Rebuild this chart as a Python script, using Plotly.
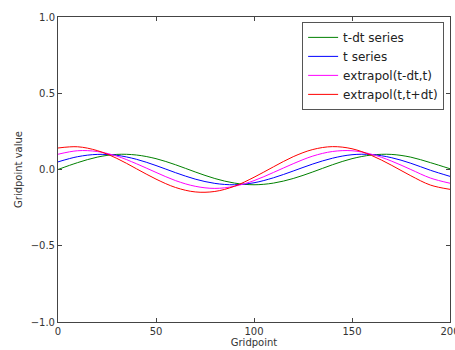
import plotly.graph_objects as go

gridpoint = [0, 10, 20, 30, 40, 50, 60, 70, 80, 90, 100, 110, 120, 130, 140, 150, 160, 170, 180, 190, 200]

t_minus_dt = [0.0, 0.045, 0.081, 0.099, 0.095, 0.071, 0.031, -0.016, -0.059, -0.089, -0.100,
              -0.089, -0.059, -0.016, 0.031, 0.071, 0.095, 0.099, 0.081, 0.045, 0.005]
t_series = [0.050, 0.084, 0.099, 0.093, 0.067, 0.026, -0.021, -0.063, -0.091, -0.100, -0.087,
            -0.054, -0.010, 0.036, 0.074, 0.097, 0.098, 0.078, 0.041, -0.005, -0.045]
extrap_tdt_t = [0.100, 0.123, 0.118, 0.088, 0.038, -0.019, -0.073, -0.110, -0.124, -0.110, -0.073,
                -0.019, 0.038, 0.088, 0.118, 0.123, 0.100, 0.056, 0.0, -0.056, -0.090]
extrap_t_tdt = [0.141, 0.149, 0.124, 0.073, 0.005, -0.063, -0.118, -0.147, -0.144, -0.110, -0.051,
                0.018, 0.084, 0.131, 0.150, 0.136, 0.092, 0.029, -0.041, -0.102, -0.130]

series = [
    ("t-dt series", t_minus_dt, "#008000"),
    ("t series", t_series, "#0000ff"),
    ("extrapol(t-dt,t)", extrap_tdt_t, "#ff00ff"),
    ("extrapol(t,t+dt)", extrap_t_tdt, "#ff0000"),
]

x_ticks = [0, 50, 100, 150, 200]
y_ticks = [-1.0, -0.5, 0.0, 0.5, 1.0]

fig = go.Figure()
for name, vals, col in series:
    fig.add_trace(go.Scatter(x=gridpoint, y=vals, mode="lines", name=name,
                             line=dict(color=col, width=1, shape="spline", smoothing=1.0)))

axis_common = dict(showline=True, linecolor="#444", linewidth=1, mirror="ticks",
                   ticks="inside", ticklen=4, tickcolor="#444", showgrid=False,
                   zeroline=False, ticklabeloverflow="allow", automargin=False,
                   tickfont=dict(family="DejaVu Sans", size=10, color="#333"))

fig.update_layout(
    width=455, height=350,
    margin=dict(l=58, r=5, t=17, b=28, autoexpand=False),
    paper_bgcolor="white", plot_bgcolor="white",
    font=dict(family="DejaVu Sans", size=10, color="#333"),
    xaxis=dict(range=[0, 200], tickvals=x_ticks,
               title=dict(text="Gridpoint", standoff=2, font=dict(size=10)), **axis_common),
    yaxis=dict(range=[-1.0, 1.0], tickvals=y_ticks, tickformat=".1f",
               title=dict(text="Gridpoint value", standoff=6, font=dict(size=10)), **axis_common),
    legend=dict(x=0.985, xanchor="right", y=0.984, yanchor="top",
                bgcolor="white", bordercolor="#555", borderwidth=1,
                font=dict(family="DejaVu Sans", size=12, color="#222"),
                itemwidth=30),
    showlegend=True,
)

fig.write_html("out.html", config={"displayModeBar": False},
               post_script="document.body.style.margin='0';document.body.style.overflow='hidden';")
